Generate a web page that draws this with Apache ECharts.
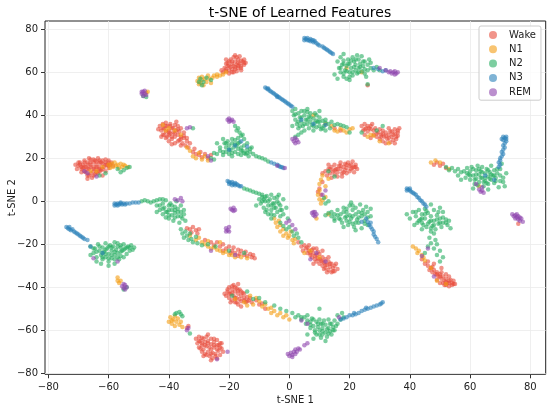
<!DOCTYPE html>
<html>
<head>
<meta charset="utf-8">
<script src="https://cdn.jsdelivr.net/npm/echarts@6/dist/echarts.min.js"></script>
<style>
  html, body { margin: 0; padding: 0; background: #fff; }
  #chart { width: 550px; height: 407px; }
</style>
</head>
<body>
<div id="chart"></div>
<script>
// stage names (legend order)
const stages = ["Wake", "N1", "N2", "N3", "REM"];
const stageColors = ["#e74c3c", "#f39c12", "#27ae60", "#2980b9", "#8e44ad"];

// tick labels
const xTicks = [-80, -60, -40, -20, 0, 20, 40, 60, 80];
const yTicks = [-80, -60, -40, -20, 0, 20, 40, 60, 80];

// t-SNE points, one array per stage
const wakePts = [
  [-71,17],[-70,16.5],[-69.5,18],[-69,15],[-68.5,17],[-68,19],[-68,14],[-67.5,16],[-67,18],[-67,12],[-66.5,15],[-66,17],[-66,19.5],[-66,13],[-65.5,11],[-65,16],[-65,18],[-65,14],[-64.5,19],[-64.5,12.5],[-64,17],[-64,15],[-63.5,20],[-63.5,13],[-63,18],[-63,16],[-62.5,14.5],[-62,17.5],[-62,19],[-61.5,16],[-61,18],[-61,14],[-60.5,17],[-60,19],[-60,15.5],[-59,18],[-58.5,16.5],[-69,13.5],[-67,10.5],[-66.5,20],[-62,12],[-68,16],[-63,15],[-64,18.5],[-66,16],[-70.5,15],[-59.5,17],[-65,12],[-61,19.5],[-67.5,13.5],
  [-70,18],[-69,16],[-68,18],[-67,15],[-66,18],[-65,15],[-64,16],[-63,19],[-62,15],[-61,17],[-60,18],[-66.5,12],[-65,19.5],[-63,14],[-68.5,15.5],[-64,13.5],[-62.5,18],[-60,16.5],[-67,17],[-69.5,17],
  [-22,60],[-21.5,62],[-21,64],[-21,60.5],[-20.5,63],[-20,65],[-20,61],[-19.5,62.5],[-19.5,66],[-19,64],[-19,60],[-18.5,63],[-18.5,67],[-18,61.5],[-18,65],[-17.5,63.5],[-17.5,60.5],[-17,66],[-17,62],[-16.5,64],[-16.5,67.5],[-16,63],[-16,61],[-15.5,65],[-15,63.5],[-15,66],[-14.5,64.5],[-20,59.5],[-18,68],[-21,66],[-17,64.5],[-19,61.5],[-16,65.5],[-22.5,61],
  [-21,61.5],[-20,63],[-19,65],[-18,62.5],[-17,63],[-16,62],[-15,64.5],[-18.5,60],[-20.5,64.5],[-17.5,67],
  [-43,35],[-42.5,33],[-42,36],[-42,31],[-41.5,34],[-41,32.5],[-41,36.5],[-40.5,30],[-40.5,35],[-40,33],[-40,28],[-39.5,31.5],[-39.5,36],[-39,34],[-39,29],[-38.5,32],[-38,35.5],[-38,30],[-38,27],[-37.5,33],[-37,31],[-37,35],[-36.5,28.5],[-36.5,32.5],[-36,30],[-36,34],[-35.5,27],[-35,29.5],[-35,32],[-34.5,26],[-34,28],[-33.5,25],[-33,27],[-41,29.5],[-42.5,30],[-39,26.5],[-37.5,37],[-43.5,33.5],[-40,31],[-38.5,34],[-36,26],
  [-42,34],[-41,35],[-40,32],[-39,30],[-38,31.5],[-37,33.5],[-36,29],[-35,30.5],[-41.5,31],[-39.5,35],[-37,28],[-34,29.5],
  [-32,23],[-31,22],[-30,21.5],[-29,20.5],[-28,22],[-27,20],[-31.5,24.5],[-26,21.5],[-29.5,23],
  [24,35],[24.5,33],[25,36],[25.5,34],[26,32.5],[26,35],[27,33.5],[27.5,36],[28,31],[29,30],[29.5,32],[30,29],[30.5,31],[31,33],[31,28],[31.5,30],[32,32],[32.5,29],[33,31],[33,34],[33.5,27.5],[34,30],[34,32.5],[34.5,28.5],[35,31.5],[35,33.5],[35.5,29],[36,30.5],[36,32],[36.5,34],[30,33.5],[32,27],[28.5,34],[27,29.5],[25,31],[33,29.5],[35,27],
  [25,33.5],[26.5,34],[28,33],[29,31.5],[30.5,30],[32,30.5],[33.5,32.5],[34.5,31],[35.5,30],[36,33],[31,31.5],[27,35],
  [12,14],[12.5,12],[13,15],[13.5,13],[14,16],[14.5,14],[15,17],[15,12.5],[15.5,15],[16,13.5],[16.5,16.5],[17,15],[17,18],[17.5,13],[18,16],[18.5,14.5],[18.5,17.5],[19,15.5],[19.5,18],[20,16.5],[20,14],[20.5,17],[21,15.5],[21,18.5],[21.5,16],[22,17],[22.5,15],[14,11],[16,11.5],[19,13],[13,17],[11,13],[17.5,11.5],[21.5,13.5],[10,6],[10.5,3],[11,9],[9.5,4.5],
  [15,14.5],[17,16.5],[19,17],[20.5,15],[16,15],[13.5,15],[18,13.5],[22,16],
  [48,17],[49,18],[50,16.5],[51,17.5],[52,15.5],
  [44,-27],[45,-29],[46,-30],[46.5,-32],[47,-31],[47.5,-33],[48,-32],[48.5,-34],[49,-33],[49.5,-35],[50,-34],[50.5,-36],[51,-35],[51,-38],[51.5,-37],[52,-36],[52,-39],[52.5,-38],[53,-37],[53,-39.5],[53.5,-36.5],[54,-38],[54.5,-37],[55,-38.5],[50,-38],[49,-36.5],[48,-29],[52,-34],[54,-39],[50.5,-31],[46,-28],[53,-35],
  [50,-35],[51.5,-39],[53,-38],[52,-37.5],[54.5,-38.5],[49,-34],[47.5,-30.5],[50.5,-33],
  [3,-19],[4,-21],[4.5,-23],[5,-20.5],[5.5,-22],[6,-24],[6,-21.5],[6.5,-23],[7,-25],[7.5,-22.5],[7.5,-26],[8,-24],[8.5,-27],[9,-25],[9,-28],[9.5,-26.5],[10,-24.5],[10,-29],[10.5,-27.5],[11,-26],[11,-30],[11.5,-28.5],[12,-31],[12,-27],[12.5,-29.5],[13,-28],[13,-32],[13.5,-30.5],[14,-29],[14,-33],[14.5,-31],[15,-32.5],[15,-30],[16,-31.5],[9,-22],[11,-23],[8,-29],[13,-26],[12.5,-33],
  [6.5,-20.5],[8,-22],[8.5,-25.5],[10,-27],[11,-28],[12,-29.5],[13.5,-29],[14.5,-32.5],[15.5,-29],[9.5,-23.5],[11.5,-31.5],[7,-24],
  [-34,-12.5],[-33,-13],[-32,-12],[-31,-13.5],[-30,-13],[-32.5,-14.5],[-30.5,-15],
  [-28,-18],[-26,-19],[-25,-20.5],[-24,-19],[-23,-21],[-22,-20],[-21,-22],[-20,-21],[-19,-23],[-18.5,-21.5],[-18,-24],[-17,-22.5],[-16.5,-24.5],[-16,-23],[-15,-25],[-14.5,-23.5],[-14,-25.5],[-13,-24.5],[-12.5,-26],[-12,-25],[-11.5,-26.5],[-17,-25.5],[-19.5,-24],[-22,-23],
  [-31,-64],[-30.5,-66],[-30,-63],[-29.5,-65],[-29,-67],[-29,-63.5],[-28.5,-69],[-28,-65.5],[-28,-71],[-27.5,-63],[-27.5,-67.5],[-27,-70],[-27,-65],[-26.5,-72],[-26.5,-68],[-26,-64],[-26,-66.5],[-25.5,-70.5],[-25.5,-73],[-25,-68],[-25,-65.5],[-24.5,-71],[-24,-67],[-24,-73],[-23.5,-69.5],[-23,-66],[-23,-71.5],[-22.5,-68.5],[-22,-70],[-30,-68],[-28.5,-72],[-26,-74],[-24,-64.5],[-29,-70],[-22.5,-66],[-27,-62],
  [-30,-65],[-29,-66],[-28,-67],[-27,-66],[-26,-69],[-25,-67],[-24,-69],[-23,-68],[-27.5,-71.5],[-26,-71],[-28.5,-64],[-25,-64],[-24.5,-72],[-29.5,-68.5],[-23.5,-67],
  [-21,-44],[-20.5,-42],[-20,-40],[-20,-45],[-19.5,-43],[-19,-41],[-19,-46],[-18.5,-39],[-18.5,-44],[-18,-42],[-18,-47],[-17.5,-40.5],[-17.5,-45],[-17,-43],[-17,-48],[-16.5,-41],[-16,-44],[-16,-46.5],[-15.5,-42.5],[-15,-45],[-15,-43],[-14.5,-47],[-14,-44.5],[-13.5,-46],[-13,-45],[-12.5,-47],[-17,-38.5],[-19.5,-47],[-16,-49],[-21.5,-43],
  [-20,-43],[-19,-42.5],[-18,-40],[-18,-45],[-17,-41.5],[-16.5,-45.5],[-16,-42],[-15,-46],[-14,-46.5],[-19,-39.5],[-17.5,-47],[-20.5,-41],
  [-11,-46],[-10,-48],[-9,-47.5],[-8,-50],
  [-34,-59],[-33.5,-58],[15,34],[17,33],[26,54],[76,-10.5]
];

const n1Pts = [
  [-60,17],[-59.5,15.5],[-59,17.5],[-58.5,16],[-58,18],[-57.5,16.5],[-57,17],[-56.5,15.5],[-56,17.5],[-55.5,16],[-55,17],[-54.5,16.5],[-53.5,16],[-62,16],[-64,14],[-66,14],
  [-30.5,56],[-30,57.5],[-29.5,55],[-29,58],[-29,56.5],[-28.5,54],[-28,57],[-27.5,55.5],[-27,58.5],[-26.5,57],[-26,55],[-25.5,57.5],[-30,54.5],[-24,58],[-23,58.5],[-22,59],[-21,60],[-24,59],[-25,58.5],
  [-42,35.5],[-40,34],[-38,33],[-36,31],[-34,25],[-32,21],[-31,20],[-30,22.5],[-29,19.5],[-28,21],[-27,19],[-33,23.5],[-41,33],
  [27,31],[28,30.5],[33,27],[30,28],[26,30],
  [14,35],[15,33],[16,32.5],[17,34],[18,33],[19,32],[20,33.5],[21,34],[12,36],[8,40],
  [11,12],[10.5,10],[10,8],[10,5],[9.5,3],[10,1],[11,0.5],[12,2],[10.5,-1],[13,10.5],[12,7],
  [-5,-8],[-4.5,-10],[-4,-12],[-3,-11],[-3,-14],[-2,-13],[-2,-16],[-1,-15],[-0.5,-17],[0,-16],[1,-18],[1.5,-19.5],[2,-17.5],[-3.5,-9],[0.5,-14],[7,-23],[10,-26],[5,-24],
  [-30,-17],[-29,-19],[-28,-20],[-27,-18.5],[-27,-21],[-26,-22],[-25,-21.5],[-24,-22.5],[-23,-23],[-22,-24],[-21,-23.5],[-20,-25],[-19,-25],[-18,-26],[-16,-26],[-14,-26.5],[-33,-16],[-31,-18],[-23,-19],
  [-40,-56],[-39.5,-54],[-39,-57],[-38.5,-55],[-38,-53.5],[-38,-58],[-37.5,-56],[-37,-54.5],[-36.5,-57.5],[-36,-56],[-35.5,-58.5],[-39,-55.5],
  [-13,-44],[-12,-48],[-11,-45],[-10,-46.5],[-9,-49],[-8,-48],[-7,-50],[-6,-49.5],[-6,-52],[-5,-51],[-4,-53],[-3,-52],[-2,-54],[-1,-53],[0,-55],[-14,-48.5],[-15,-47],[-18,-45.5],
  [41,-21],[42,-22],[42.5,-24],[43,-23],[44,-25],[44.5,-26],[45,-27.5],[47,-31],[49,-37],[52,-38.5],
  [47,18],[48.5,19],[50,18],[53,15],[63,7],
  [-57,-35.5],[-57,-37],[-56.5,-38],[-56,-37],
  [-47.5,50.5],[-47,51],[24,60],[19,62],[13,-6],[9,-8]
];

const n2Pts = [
  [-55,14.5],[-54,15.5],[-57,15],[-56,13.5],[-53,16],[-61,13],[-63,12],
  [-29.5,57],[-28.5,55.5],[-27.5,57.5],[-29,54],[-26,56.5],[-30,55.5],
  [-32,34],[-25,22.5],[-24,22],[-23,23.5],[-22,21.5],[-26,20],[-25,19.5],
  [-18,35],[-17.5,33],[-17,34],[-16.5,32],[-16,30.5],[-15.5,31],[-15,29],
  [-22,29],[-21.5,27],[-21,25],[-21,23],[-20.5,28],[-20,26],[-20,22],[-19.5,24],[-19,27],[-19,21],[-18.5,25],[-18,23],[-18,28.5],[-17.5,26],[-17,22],[-17,24.5],[-16.5,27.5],[-16,25],[-16,21.5],[-15.5,23.5],[-15,26],[-14.5,22],[-14,24],[-13.5,21],[-13,23],[-12.5,25],[-12,22],[-23,25],[-24,27],[-14,27],
  [-21,27],[-20,24],[-19,22.5],[-18,26.5],[-17,27],[-16,23.5],[-15,22.5],[-14,22.5],[-13,24.5],[-19,29],[-17,29.5],[-22,23],
  [-11,21],[-10,20.5],[-9,20],[-8,19.5],[-7,18.5],
  [16,65],[16.5,62],[17,67],[17,60],[17.5,63.5],[18,58],[18,65.5],[18.5,61],[19,63],[19,57],[19.5,66],[20,60],[20,64],[20.5,62],[21,58.5],[21,67],[21.5,65],[22,61],[22,63.5],[22.5,59.5],[23,66],[23,62],[23.5,64],[24,60.5],[24,67.5],[24.5,63],[25,65],[25,61.5],[25.5,58],[26,63.5],[26.5,66],[27,62],[27,64.5],[15,59],[16,57],[20,56.5],[22.5,68],[18,68.5],[28,61],[29,62.5],[30,61],[26,54.5],
  [17,62],[18,64],[19,60.5],[19.5,64],[20.5,65.5],[21,60],[21.5,62.5],[22,66],[23,60],[23.5,62.5],[24.5,65],[25,59.5],[26,61],[20,58],[18,59.5],
  [1,42],[1.5,40],[2,38],[2,43],[2.5,36],[3,41],[3,34],[3.5,39],[4,37],[4,42],[4.5,35],[5,40],[5,33],[5.5,38],[6,36],[6,41.5],[6.5,34],[7,39],[7,37],[7.5,35.5],[8,38.5],[8,33],[8.5,36.5],[9,40],[9,34.5],[9.5,37],[10,35],[10,39],[10.5,33.5],[11,37.5],[11.5,35],[12,38],[12,33],[13,36],[13.5,34],[14,37],[15,35.5],[16,36],[17,35.5],[18,35],[19,34.5],[20,32],[3,31],[2,30],[4,32],[1,35],[6,43],[10,42],
  [3,37],[4,39],[5,36],[5,42],[6,38],[7,41],[8,35],[9,37.5],[10,37],[11,34],[12,36.5],[3.5,35],[2,40.5],[6.5,39.5],[8.5,41],
  [52,16],[53,14.5],[54,15.5],[55,14],[56,15],[57,13.5],
  [58,14],[58.5,11],[59,15.5],[59.5,12.5],[60,10],[60,14],[60.5,16],[61,12],[61.5,8],[62,14.5],[62,10.5],[62.5,16.5],[63,12.5],[63,9],[63.5,14],[64,11],[64,16],[64.5,7],[65,13],[65,9.5],[65.5,15],[66,11.5],[66,8],[66.5,13.5],[67,10],[67,16.5],[67.5,12],[68,14.5],[68,8.5],[68.5,11],[69,13],[69.5,6.5],[70,9.5],[70,15],[71,11],[71.5,7],[72,13],[57,10],[61,6],[66,5.5],[70.5,17.5],[56,12],
  [59,13],[60,12],[61,15],[61.5,10],[62,12.5],[63,15],[63.5,11],[64,13.5],[65,11],[65.5,8.5],[66,14.5],[66.5,10.5],[67,12.5],[68,12],[68.5,9.5],[69,15],[70,12],[71,9],[62.5,7.5],[64.5,9],
  [40,-8],[41,-5],[42,-7],[42.5,-10],[43,-4],[43.5,-8.5],[44,-6],[44.5,-11],[45,-3.5],[45,-8],[45.5,-12],[46,-5.5],[46.5,-9.5],[47,-7],[47.5,-11.5],[48,-4],[48,-9],[48.5,-13],[49,-6.5],[49.5,-10.5],[50,-8],[50.5,-12],[51,-5],[51,-10],[52,-8.5],[52.5,-11],[53,-9],[53.5,-12.5],[44,-13],[41.5,-11],[47,-1.5],[50,-3],[39,-6],
  [42,-5],[43,-9],[44,-8],[45,-6],[46,-10.5],[47,-9],[48,-11],[49,-8.5],[50,-10],[51,-7.5],[52,-10],[45.5,-4.5],[49.5,-5],[44,-10],[47,-12.5],
  [47,-14],[48,-15],[46.5,-17],[48.5,-18],[47,-19.5],[49,-20],[48,-22],[50,-23],[49,-25],[51,-26],[50,-28],[46,-21],[45,-24],
  [12,-6.5],[13,-5.5],[14,-7],[15,-6],[16,-4],[16.5,-8],[17,-6],[17.5,-10],[18,-3],[18.5,-7.5],[19,-5],[19,-9],[19.5,-11],[20,-2],[20,-6.5],[20.5,-8],[21,-4],[21,-10.5],[21.5,-12],[22,-6],[22,-3],[22.5,-8.5],[23,-5],[23,-10],[23.5,-1.5],[24,-7],[24,-12.5],[24.5,-4],[25,-9],[25,-6],[25.5,-2.5],[26,-5],[26,-11],[27,-7],[27,-3.5],[18,-12],[15,-9],[22,-13.5],[20.5,-0.5],
  [14,-5],[15,-8],[16,-6.5],[17,-8.5],[18,-5],[19,-7],[20,-9.5],[21,-7],[22,-10],[23,-7.5],[24,-5.5],[25,-10.5],[26,-7.5],[21,-2],[19,-3.5],
  [-15,6],[-14,5.5],[-13,5],[-12,4.5],[-11,4],[-10,3.5],[-9,3],
  [-10,1],[-9.5,-1],[-9,2],[-8.5,-3],[-8,0],[-8,-5],[-7.5,2.5],[-7,-2],[-7,-6],[-6.5,1],[-6,-4],[-6,3],[-5.5,-1],[-5,-6.5],[-5,1.5],[-4.5,-3],[-4,0],[-4,-5],[-3.5,3],[-3,-2],[-3,-7],[-2.5,-4],[-2,1],[-2,-6],[-11,-2],[-1,-3],[-0.5,-8],[-6,-8],
  [-9,0],[-8,2],[-7,0],[-6,-2],[-5,-3],[-4,2],[-3,-4],[-7.5,-4],[-5,-1],[-3.5,-1],[-6,-6],[-8.5,1],
  [-3,-10],[-2,-11.5],[-1,-13],[0,-12],[1,-14],[1.5,-16],[3,-17],[4,-19],[2.5,-15],
  [12,-1],[13,0],[11.5,1.5],[13,14],[15,11.5],
  [-49,0],[-48,0.5],[-47,0],[-46,-0.5],
  [-45,0],[-44,-2],[-43,1],[-43,-4],[-42,-1],[-42,-6],[-41.5,-3],[-41,0.5],[-40.5,-5],[-40,-2],[-40,-8],[-39.5,-1],[-39,-4],[-39,-6.5],[-38.5,-9],[-38,-2.5],[-38,-5.5],[-37.5,0],[-37,-3.5],[-37,-7],[-36.5,-10],[-36,-5],[-36,-2],[-35.5,-8],[-35,-4],[-35,-6],[-34.5,-9],[-44,-5],[-41,-7.5],
  [-43,-2],[-42,-3.5],[-41,-5],[-40,-4],[-39,-2],[-38,-7.5],[-37,-5],[-36,-7],[-40,-6.5],[-38,-4],[-42,1],[-44,0.5],
  [-36,-13],[-35.5,-15],[-35,-17],[-34.5,-14],[-34,-16],[-33.5,-18],[-33,-15],[-32.5,-17.5],[-32,-19],[-31,-16.5],[-30.5,-19.5],[-29,-20.5],[-27,-20],[-24.5,-21],[-20,-23],[-15,-24],
  [-66,-21],[-65,-24],[-64.5,-22],[-64,-26],[-63.5,-20],[-63,-23],[-62.5,-25],[-62,-21.5],[-62,-27],[-61.5,-23.5],[-61,-19.5],[-61,-26],[-60.5,-22],[-60,-24.5],[-60,-28],[-59.5,-20.5],[-59,-23],[-59,-26.5],[-58.5,-21],[-58,-25],[-58,-29],[-57.5,-22.5],[-57,-24],[-57,-19.5],[-56.5,-27],[-56,-21.5],[-56,-25.5],[-55.5,-23],[-55,-20],[-55,-26],[-54.5,-22],[-54,-24.5],[-53.5,-21],[-53,-23],[-52.5,-20.5],[-52,-22.5],[-51.5,-21.5],[-64,-28],[-60,-30],[-58,-19],[-66,-25],[-62.5,-29],
  [-65,-22],[-64,-23.5],[-63,-21],[-62,-24],[-61,-22.5],[-60,-21],[-59,-25],[-58,-23.5],[-57,-21],[-56,-23.5],[-55,-22.5],[-54,-21.5],[-60,-26.5],[-58,-27],[-62,-26],[-56,-20.5],[-53,-21.5],[-59,-21.5],[-57,-26],[-61,-24.5],
  [-55,-41],[-54,-40],
  [-37.5,-52],[-36.5,-51.5],[-36,-52.5],[-35.5,-53.5],[-38,-52.5],[-33,-61.5],
  [-12,-45.5],[-10,-45],[-8,-47],[-5,-48.5],[-3,-50],[-1,-51],[1,-52],[2,-54],
  [3,-53],[4,-55],[5,-54],[5.5,-57],[6,-53],[7,-56],[7,-59],[7.5,-54.5],[8,-58],[8.5,-60],[9,-56],[9,-62],[9.5,-58.5],[10,-55],[10,-60],[10.5,-57],[11,-62],[11,-59],[11.5,-55.5],[12,-61],[12,-57.5],[12.5,-63],[13,-59],[13,-55],[13.5,-60.5],[14,-57],[14,-62],[14.5,-58.5],[15,-55.5],[15,-60],[16,-57],[16,-53],[17,-55],[17.5,-52],[12,-65],[8,-64],[6,-62],[18,-54],[10,-50],
  [4,-54],[6,-55.5],[7,-57.5],[8,-55],[8.5,-61],[9.5,-57],[10,-62],[11,-57],[11,-60.5],[12.5,-59.5],[13,-61.5],[13.5,-57],[14.5,-60],[15.5,-58],[10.5,-63.5],
  [-19,-44],[-14,-42],[-48.5,49],[-47.5,48.5],[24,32],[29,33],[31,35]
];

const n3Pts = [
  [-16,28],[-18,26],[-14,25.5],[-20,24],
  [-6,18],[-5,17.5],[-4,17],[-3.5,16.5],[-3,16],[-2.5,16],[-2,15.5],
  [5,76],[5.5,75.5],[6,76],[6.5,75],[7,75.5],[7,74.5],[7.5,75],[8,74],[8.5,74.5],[9,73.5],[9.5,73],[10,72.5],[11,72],[11.5,71.5],[12,71],[12.5,70.5],[13,70],[13.5,69.5],[14,69],[14.5,68.5],[6,75],[8,75],[5,75],
  [28,62],[29.5,61.5],[31,60.5],[32,61],
  [-8,53],[-7.5,52.5],[-7,52],[-6.5,51.5],[-6,51],[-5.5,50.5],[-5,50],[-4.5,49.5],[-4,49],[-3.5,48.5],[-3,48],[-2.5,47.5],[-2,47],[-1.5,46.5],[-1,46],[-0.5,45.5],[0,45],[0.5,44.5],[1,44],[-7,52.5],[-4,48.5],
  [4,38],[8,36],[12,35.5],
  [71,30],[71.5,29.5],[72,29],[71,28.5],[72,28],[71.5,27],[71,26],[71.5,25],[71,24],[70.5,23],[71,22],[70.5,21],[70,20],[70,19],[69.5,18],[70,17],[69.5,16],[72,30],[70.5,29],[65,12],[68,10],
  [39,6],[39.5,5.5],[40,5],[40.5,4.5],[41,4],[41.5,3.5],[42,3],[42.5,2],[43,1.5],[43.5,0.5],[44,0],[44.5,-1],[45,-1.5],[45.5,-2.5],[39,5],[40,6],
  [25.5,-8],[26,-9.5],[26.5,-11],[27,-12],[27.5,-13],[28,-14],[28,-15.5],[28.5,-16.5],[29,-17.5],[29.5,-19],[27,-10],[24,-9.5],
  [-20.5,9.5],[-20,9],[-20,8],[-19.5,8.5],[-19,9],[-19,7.5],[-18.5,8],[-18,8.5],[-18,7.5],[-17.5,8],[-17,7.5],[-16.5,7],[-16,7],
  [-58,-1],[-57.5,-1.5],[-57,-1],[-56.5,-1.5],[-56,-1],[-55.5,-1.5],[-55,-1],[-54.5,-1.5],[-54,-1],[-53,-1],[-52,-0.5],[-51,-0.5],[-50,-0.5],[-57,-2],[-56,-0.5],[-58,-2],
  [-74,-12],[-73.5,-12.5],[-73,-13],[-72.5,-13.5],[-72,-13],[-71.5,-14],[-71,-14.5],[-70.5,-15],[-70,-15.5],[-69.5,-16],[-69,-16.5],[-68.5,-17],[-68,-17.5],[-67,-18],[-66,-21],[-73,-12],[-62,-24],
  [17,-55],[18,-54.5],[19,-54],[20,-53],[21,-53],[22,-52.5],[23,-52],[24,-51],[25,-50.5],[26,-50],[27,-49.5],[28,-49],[29,-48.5],[30,-48],[30.5,-47.5],[31,-47],[21.5,-52],[25.5,-49.5]
];

const remPts = [
  [-68,14],[-67,13],[-64,11.5],
  [-49,50],[-48.5,51],[-48,50],[-48,51.5],[-47.5,49.5],[-48.5,49],[-49,51],
  [-34,34],[-33,34.5],[-27,21],[-26,19],
  [-20.5,38],[-20,38.5],[-19.5,37.5],[-19,38],[-20,37],[-18.5,37],[-4,16.5],[-1.5,15.5],
  [32,61],[33,60],[33.5,60.5],[34,59.5],[34.5,60],[35,59],[35,60.5],[35.5,59.5],[36,60],[30,62],
  [1,29],[1.5,28],[2,29.5],[2.5,28.5],[3,27.5],[2,27],
  [63,5.5],[63.5,4.5],[64,5],[64.5,4],[64,6.5],[62,8],
  [48,-35],[44,-25.5],[46,-22],
  [74,-6],[74.5,-7],[75,-6.5],[75,-8],[75.5,-7.5],[76,-7],[76,-8.5],[76.5,-9],[77,-8],[75.5,-6],[76.5,-7.5],[77.5,-9.5],
  [7.5,-5.5],[8,-6.5],[8.5,-5],[8.5,-7],[9,-6],[8,-5],
  [-19.5,-3.5],[-19,-4],[-18.5,-3],[-18,-4],[-18.5,-4.5],
  [-1,-10],[0,-9],[1,-11],[2,-13],[9,-24],[12,-28],[7,-27],
  [-38,1],[-37,0.5],[-36,1.5],[-35.5,0],
  [-21,-12.5],[-20.5,-13.5],[-20,-12],[-20,-14],[-21,-14],[-26,-23],[-18,-25],
  [-65,-26.5],[-57,-28],
  [-55.5,-39.5],[-55,-40.5],[-54.5,-39],[-54.5,-41],[-54,-40],[-55,-38.5],
  [-34,-60],[-33.5,-59],[-20.5,-70],[-24,-73.5],
  [-0.5,-71],[0,-72],[0.5,-70.5],[1,-71.5],[1.5,-70],[2,-71],[2,-69],[2.5,-70],[3,-68.5],[3.5,-69],[5,-67],[6,-66],[1,-72.5],
  [4,-55.5],[6,-57],[16.5,-54],[11,3],[12,5]
];

const stagePts = [wakePts, n1Pts, n2Pts, n3Pts, remPts];

const chart = echarts.init(document.getElementById("chart"), null, { renderer: "canvas" });
const font = "DejaVu Sans";
const minus = v => (v < 0 ? "\u2212" + Math.abs(v) : String(v));

chart.setOption({
  animation: false,
  backgroundColor: "#fff",
  textStyle: { fontFamily: font },
  title: {
    text: "t-SNE of Learned Features",
    left: 295, top: 1, textAlign: "center",
    textStyle: { fontFamily: font, fontSize: 14, fontWeight: "normal", color: "#000" }
  },
  legend: {
    orient: "vertical",
    left: 479, top: 26,
    padding: [3, 5, 2, 10],
    icon: "circle",
    itemWidth: 8, itemHeight: 8, itemGap: 2.3,
    borderColor: "#cccccc", borderWidth: 1, borderRadius: 2,
    backgroundColor: "rgba(255,255,255,0.8)",
    textStyle: { fontFamily: font, fontSize: 10, lineHeight: 12, color: "#222", padding: [0, 0, 0, 7] },
    data: stages
  },
  grid: {
    left: 45, top: 21, right: 4.3, bottom: 32.7,
    containLabel: false, outerBoundsMode: "none",
    show: true, borderColor: "#222", borderWidth: 1, backgroundColor: "transparent"
  },
  xAxis: {
    type: "value", min: -81.1, max: 85.1,
    name: "t-SNE 1", nameLocation: "middle", nameGap: 21, nameMoveOverlap: false,
    nameTextStyle: { fontFamily: font, fontSize: 10, color: "#222" },
    axisLine: { show: false, onZero: false },
    axisTick: { show: true, length: 4, inside: false, customValues: xTicks, lineStyle: { color: "#333" } },
    axisLabel: { customValues: xTicks, margin: 8, fontSize: 10, color: "#222", fontFamily: font, formatter: minus },
    splitLine: { show: true, lineStyle: { color: "#ebebeb", width: 0.8 } }
  },
  yAxis: {
    type: "value", min: -80.5, max: 83.9,
    name: "t-SNE 2", nameLocation: "middle", nameGap: 28, nameRotate: 90, nameMoveOverlap: false,
    nameTextStyle: { fontFamily: font, fontSize: 10, color: "#222" },
    axisLine: { show: false, onZero: false },
    axisTick: { show: true, length: 4, inside: false, customValues: yTicks, lineStyle: { color: "#333" } },
    axisLabel: { customValues: yTicks, margin: 7, fontSize: 10, color: "#222", fontFamily: font, formatter: minus },
    splitLine: { show: true, lineStyle: { color: "#ebebeb", width: 0.8 } }
  },
  series: stages.map((name, i) => ({
    name: name,
    type: "scatter",
    data: stagePts[i],
    symbol: "circle",
    symbolSize: 4.5,
    itemStyle: { color: stageColors[i], opacity: 0.6 }
  }))
});
</script>
</body>
</html>
